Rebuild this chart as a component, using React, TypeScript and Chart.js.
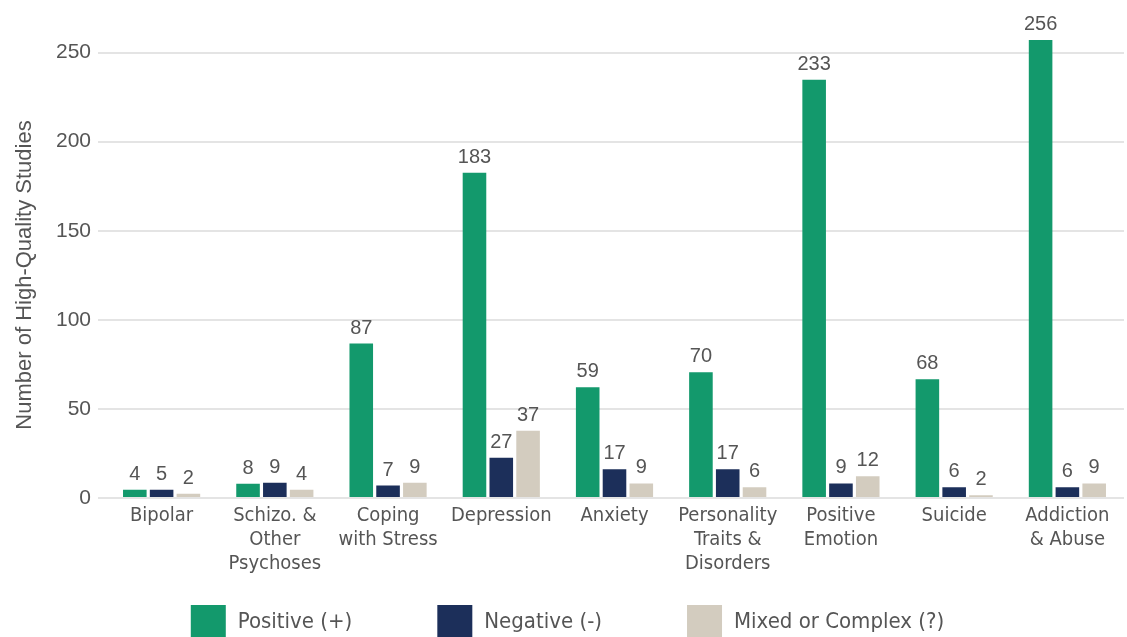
import React, { useEffect, useRef } from "react";
import { Chart, registerables } from "chart.js";

Chart.register(...registerables);

const categories: string[][] = [
  ["Bipolar"],
  ["Schizo. &", "Other", "Psychoses"],
  ["Coping", "with Stress"],
  ["Depression"],
  ["Anxiety"],
  ["Personality", "Traits &", "Disorders"],
  ["Positive", "Emotion"],
  ["Suicide"],
  ["Addiction", "& Abuse"],
];

const seriesNames = ["Positive (+)", "Negative (-)", "Mixed or Complex (?)"];
const seriesColors = ["#13996C", "#1C2F5A", "#D3CCBF"];

// bar heights as drawn in the picture
const positiveBars = [4.7, 8.0, 86.7, 182.6, 62.2, 70.6, 234.7, 66.7, 257.1];
const negativeBars = [4.7, 8.6, 7.0, 22.6, 16.1, 16.1, 8.2, 6.0, 6.0];
const mixedBars = [2.4, 4.7, 8.6, 37.8, 8.2, 6.0, 12.2, 1.5, 8.2];

// printed value labels
const positiveLabels = [4, 8, 87, 183, 59, 70, 233, 68, 256];
const negativeLabels = [5, 9, 7, 27, 17, 17, 9, 6, 6];
const mixedLabels = [2, 4, 9, 37, 9, 6, 12, 2, 9];

const yTicks = [0, 50, 100, 150, 200, 250];
const yTitle = "Number of High-Quality Studies";

const TEXT = "#555555";
const NUM_FONT = "'Liberation Sans', Arial, sans-serif";
const COND_FONT = "'Liberation Sans Narrow', 'DejaVu Sans Condensed', 'Liberation Sans', sans-serif";

const valueLabelPlugin = {
  id: "valueLabels",
  afterDatasetsDraw(chart: any) {
    const ctx = chart.ctx;
    const all = [positiveLabels, negativeLabels, mixedLabels];
    ctx.save();
    ctx.font = `20px ${NUM_FONT}`;
    ctx.fillStyle = TEXT;
    ctx.textAlign = "center";
    ctx.textBaseline = "alphabetic";
    chart.data.datasets.forEach((ds: any, di: number) => {
      const meta = chart.getDatasetMeta(di);
      meta.data.forEach((bar: any, i: number) => {
        ctx.fillText(String(all[di][i]), bar.x, bar.y - 10);
      });
    });
    ctx.restore();
  },
};

const yTitlePlugin = {
  id: "yTitle",
  afterDraw(chart: any) {
    const ctx = chart.ctx;
    ctx.save();
    ctx.translate(25, 275);
    ctx.rotate(-Math.PI / 2);
    ctx.font = `22px ${NUM_FONT}`;
    ctx.fillStyle = TEXT;
    ctx.textAlign = "center";
    ctx.textBaseline = "middle";
    ctx.fillText(yTitle, 0, 0);
    ctx.restore();
  },
};

const legendPlugin = {
  id: "customLegend",
  afterDraw(chart: any) {
    const ctx = chart.ctx;
    const W = chart.width;
    const boxW = 35;
    const boxH = 32;
    const gap = 12;
    const spacing = 85;
    ctx.save();
    ctx.font = `22px ${COND_FONT}`;
    const widths = chart.data.datasets.map((d: any) => ctx.measureText(d.label).width);
    const total =
      widths.reduce((a: number, w: number) => a + boxW + gap + w, 0) + spacing * (widths.length - 1);
    let x = (W - total) / 2 + 4;
    const top = 605;
    chart.data.datasets.forEach((d: any, i: number) => {
      ctx.fillStyle = d.backgroundColor;
      ctx.fillRect(x, top, boxW, boxH);
      ctx.fillStyle = TEXT;
      ctx.textAlign = "left";
      ctx.textBaseline = "middle";
      ctx.fillText(d.label, x + boxW + gap, top + 17);
      x += boxW + gap + widths[i] + spacing;
    });
    ctx.restore();
  },
};

export default function App() {
  const ref = useRef<HTMLCanvasElement | null>(null);
  useEffect(() => {
    if (!ref.current) return;
    const bars = [positiveBars, negativeBars, mixedBars];
    const chart = new Chart(ref.current, {
      type: "bar",
      data: {
        labels: categories,
        datasets: seriesNames.map((name, i) => ({
          label: name,
          data: bars[i],
          backgroundColor: seriesColors[i],
          borderWidth: 0,
          barPercentage: 0.88,
          categoryPercentage: 0.71,
        })),
      },
      options: {
        responsive: false,
        animation: false,
        layout: { padding: { top: 13, right: 3, bottom: 40, left: 0 } },
        plugins: {
          legend: { display: false },
          tooltip: { enabled: false },
        },
        scales: {
          x: {
            grid: { display: false, drawTicks: false },
            border: { display: false },
            ticks: {
              color: TEXT,
              font: { family: COND_FONT, size: 20, lineHeight: 1.2 },
              padding: 6,
              maxRotation: 0,
              autoSkip: false,
            },
            afterFit(scale: any) {
              scale.height = 99;
            },
          },
          y: {
            min: 0,
            max: 268.5,
            afterBuildTicks(scale: any) {
              scale.ticks = yTicks.map((v) => ({ value: v }));
            },
            afterFit(scale: any) {
              scale.width = 105;
            },
            grid: { color: "#E4E4E4", lineWidth: 2, tickLength: 7, drawTicks: true },
            border: { display: false },
            ticks: {
              color: TEXT,
              font: { family: NUM_FONT, size: 21 },
              padding: 7,
            },
          },
        },
      },
      plugins: [valueLabelPlugin, yTitlePlugin, legendPlugin],
    });
    return () => chart.destroy();
  }, []);
  return (
    <div style={{ position: "absolute", left: 0, top: 0, width: 1127, height: 637, background: "#fff" }}>
      <canvas ref={ref} width={1127} height={637} style={{ display: "block" }} />
    </div>
  );
}
